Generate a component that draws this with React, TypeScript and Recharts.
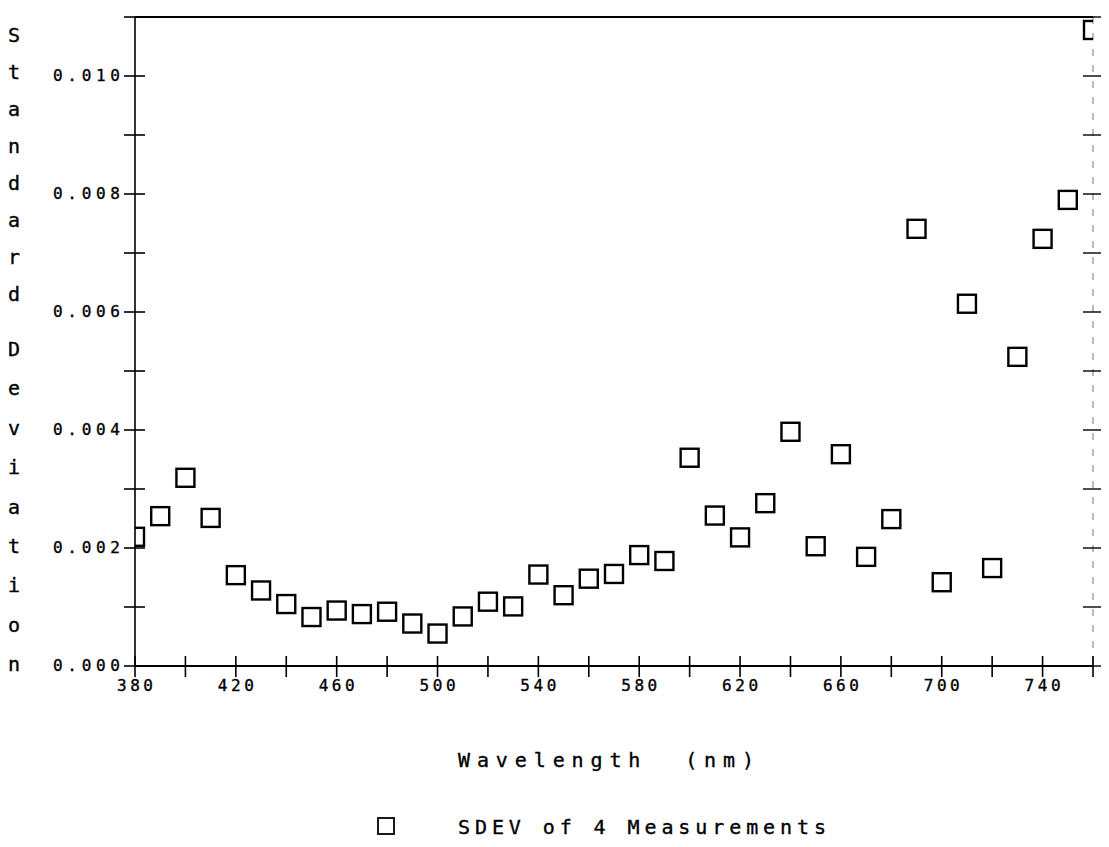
import React from 'react';
import { ScatterChart, Scatter, XAxis, YAxis, Legend } from 'recharts';

const wavelengths = [
  380, 390, 400, 410, 420, 430, 440, 450, 460, 470,
  480, 490, 500, 510, 520, 530, 540, 550, 560, 570,
  580, 590, 600, 610, 620, 630, 640, 650, 660, 670,
  680, 690, 700, 710, 720, 730, 740, 750, 760,
];

const sdevValues = [
  0.00219, 0.00254, 0.00319, 0.00251, 0.00154, 0.00128, 0.00105, 0.00083, 0.00094, 0.00088,
  0.00092, 0.00072, 0.00055, 0.00084, 0.00109, 0.00101, 0.00155, 0.0012, 0.00148, 0.00156,
  0.00188, 0.00178, 0.00353, 0.00255, 0.00218, 0.00276, 0.00397, 0.00203, 0.00359, 0.00185,
  0.00249, 0.00741, 0.00142, 0.00614, 0.00166, 0.00524, 0.00724, 0.0079, 0.01078,
];

const xTicks = [380, 400, 420, 440, 460, 480, 500, 520, 540, 560, 580, 600, 620, 640, 660, 680, 700, 720, 740, 760];
const xLabelTicks = [380, 420, 460, 500, 540, 580, 620, 660, 700, 740];
const yTicks = [0, 0.001, 0.002, 0.003, 0.004, 0.005, 0.006, 0.007, 0.008, 0.009, 0.01, 0.011];
const yLabelTicks = ['0.000', '0.002', '0.004', '0.006', '0.008', '0.010'];

const xTitle = 'Wavelength  (nm)';
const yTitleWords = ['Standard', 'Deviation'];
const seriesName = 'SDEV of 4 Measurements';

const data = wavelengths.map((w, i) => ({ wavelength: w, sdev: sdevValues[i] }));

const FONT = "'DejaVu Sans Mono', monospace";
const TEXT_STYLE = { stroke: '#000', strokeWidth: 0.35 };

const BottomTick = (props: any) => {
  const { x, y, payload } = props;
  const v = payload.value;
  const labeled = xLabelTicks.includes(v);
  return (
    <g>
      <line x1={x} x2={x} y1={y - 10} y2={y + 11} stroke="#000" strokeWidth={1.6} />
      {labeled && (
        <text x={x} y={y + 25} textAnchor="middle" fontFamily={FONT} fontSize={16} fill="#000"
          textLength={36} lengthAdjust="spacing" style={TEXT_STYLE}>
          {String(v)}
        </text>
      )}
    </g>
  );
};

const TopTick = (props: any) => {
  const { x, y } = props;
  return <line x1={x} x2={x} y1={y - 11} y2={y + 11} stroke="#000" strokeWidth={1.6} />;
};

const LeftTick = (props: any) => {
  const { x, y, payload } = props;
  const label = Number(payload.value).toFixed(3);
  const labeled = yLabelTicks.includes(label);
  return (
    <g>
      <line x1={x - 11} x2={x + 10} y1={y} y2={y} stroke="#000" strokeWidth={1.6} />
      {labeled && (
        <text x={x - 15} y={y + 5} textAnchor="end" fontFamily={FONT} fontSize={16} fill="#000"
          textLength={67} lengthAdjust="spacing" style={TEXT_STYLE}>
          {label}
        </text>
      )}
    </g>
  );
};

const RightTick = (props: any) => {
  const { x, y } = props;
  return <line x1={x - 10} x2={x + 10} y1={y} y2={y} stroke="#000" strokeWidth={1.4} />;
};

const SquareMarker = (props: any) => {
  const { cx, cy } = props;
  return <rect x={cx - 9} y={cy - 9} width={18} height={18} fill="none" stroke="#000" strokeWidth={2.4} />;
};

const renderXTitle = () => (
  <text x={450} y={759} fontFamily={FONT} fontSize={20} fill="#000" textLength={296}
    lengthAdjust="spacing" style={{ whiteSpace: 'pre', ...TEXT_STYLE }}>
    {xTitle}
  </text>
);

// letter centres (SVG y) for the vertically stacked title
const renderYTitle = () => {
  const first = yTitleWords[0].split('');
  const second = yTitleWords[1].split('');
  return (
    <g>
      {first.map((ch, i) => (
        <text key={'a' + i} x={6} y={28 + i * 37 + 6} textAnchor="middle" fontFamily={FONT}
          fontSize={20} fill="#000" style={TEXT_STYLE}>
          {ch}
        </text>
      ))}
      {second.map((ch, i) => (
        <text key={'b' + i} x={6} y={342 + i * 39.4 + 6} textAnchor="middle" fontFamily={FONT}
          fontSize={20} fill="#000" style={TEXT_STYLE}>
          {ch}
        </text>
      ))}
    </g>
  );
};

const renderLegend = () => (
  <svg width={480} height={30} style={{ display: 'block', overflow: 'visible' }}>
    <rect x={1} y={2} width={16} height={16} fill="none" stroke="#000" strokeWidth={1.8} />
    <text x={81} y={18} fontFamily={FONT} fontSize={20} fill="#000" textLength={368}
      lengthAdjust="spacing" style={TEXT_STYLE}>
      {seriesName}
    </text>
  </svg>
);

export default function App() {
  return (
    <ScatterChart width={1101} height={839} margin={{ top: 4, right: 6, bottom: 151, left: 67 }}>
      <XAxis
        dataKey="wavelength"
        type="number"
        domain={[380, 760]}
        allowDataOverflow
        ticks={xTicks}
        interval={0}
        tickSize={0}
        tickMargin={0}
        tickLine={false}
        axisLine={{ stroke: '#000', strokeWidth: 2 }}
        tick={BottomTick}
        height={30}
        label={renderXTitle}
      />
      <XAxis
        xAxisId="top"
        orientation="top"
        type="number"
        domain={[380, 760]}
        allowDataOverflow
        ticks={xTicks}
        interval={0}
        tickSize={0}
        tickMargin={0}
        tickLine={false}
        axisLine={{ stroke: '#000', strokeWidth: 2 }}
        tick={TopTick}
        height={5}
      />
      <YAxis
        dataKey="sdev"
        type="number"
        domain={[0, 0.011]}
        allowDataOverflow
        ticks={yTicks}
        interval={0}
        tickSize={0}
        tickMargin={0}
        tickLine={false}
        axisLine={{ stroke: '#000', strokeWidth: 1.6 }}
        tick={LeftTick}
        width={60}
        label={renderYTitle}
      />
      <YAxis
        yAxisId="right"
        orientation="right"
        type="number"
        domain={[0, 0.011]}
        allowDataOverflow
        ticks={yTicks}
        interval={0}
        tickSize={0}
        tickMargin={0}
        tickLine={false}
        axisLine={{ stroke: '#777', strokeWidth: 1, strokeDasharray: '7 9' }}
        tick={RightTick}
        width={10}
      />
      <Legend
        layout="horizontal"
        verticalAlign="middle"
        align="center"
        wrapperStyle={{ position: 'absolute', left: 369, top: 808, width: 500, height: 30 }}
        content={renderLegend}
      />
      <Scatter
        name={seriesName}
        data={data}
        dataKey="sdev"
        shape={SquareMarker}
        isAnimationActive={false}
      />
    </ScatterChart>
  );
}
